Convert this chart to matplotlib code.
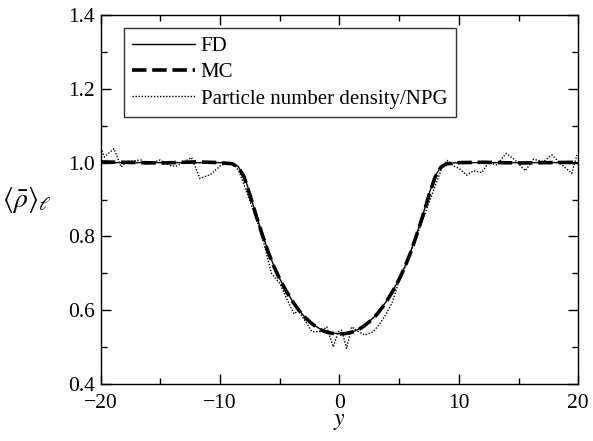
import matplotlib
matplotlib.use("Agg")
import matplotlib.pyplot as plt
from matplotlib.ticker import MultipleLocator

plt.rcParams["font.family"] = ["Liberation Serif", "DejaVu Serif"]
plt.rcParams["mathtext.fontset"] = "stix"

# FD profile
fd_y = [-20, -10, -9, -8.5, -8, -7.5, -7, -6.5, -6, -5.5, -5, -4.5, -4, -3.5,
        -3, -2.5, -2, -1.5, -1, -0.5, 0, 0.5, 1, 1.5, 2, 2.5, 3, 3.5, 4, 4.5,
        5, 5.5, 6, 6.5, 7, 7.5, 8, 8.5, 9, 10, 20]
fd_rho = [1.0, 1.0, 0.998, 0.99, 0.965, 0.915, 0.86, 0.81, 0.762, 0.72, 0.685,
          0.655, 0.628, 0.605, 0.585, 0.57, 0.557, 0.547, 0.541, 0.538, 0.537,
          0.538, 0.541, 0.547, 0.557, 0.57, 0.585, 0.605, 0.628, 0.655, 0.685,
          0.72, 0.762, 0.81, 0.86, 0.915, 0.962, 0.99, 0.998, 1.0, 1.0]

# MC profile
mc_y = [-20, -15, -12, -10, -9, -8.5, -8, -7.5, -7, -6.5, -6, -5.5, -5, -4.5,
        -4, -3.5, -3, -2.5, -2, -1.5, -1, -0.5, 0, 0.5, 1, 1.5, 2, 2.5, 3,
        3.5, 4, 4.5, 5, 5.5, 6, 6.5, 7, 7.5, 8, 8.5, 9, 10, 12, 15, 20]
mc_rho = [1.002, 0.999, 1.002, 1.0, 0.997, 0.988, 0.962, 0.912, 0.858, 0.808,
          0.76, 0.719, 0.684, 0.654, 0.627, 0.604, 0.584, 0.569, 0.556, 0.546,
          0.54, 0.537, 0.536, 0.537, 0.54, 0.546, 0.556, 0.569, 0.584, 0.604,
          0.627, 0.654, 0.684, 0.719, 0.76, 0.808, 0.858, 0.912, 0.96, 0.988,
          0.997, 1.0, 1.001, 0.999, 1.001]

# Particle number density / NPG
npg_y = [-20.0, -19.7, -18.9, -18.3, -17.85, -16.6, -16.2, -15.05, -14.1,
         -13.65, -12.95, -12.4, -11.7, -10.8, -10.2, -9.9, -8.9, -8.4, -7.6,
         -7.0, -6.4, -5.7, -5.0, -4.3, -3.8, -3.45, -2.3, -1.6, -1.07, -0.52,
         -0.1, 0.18, 0.6, 1.02, 1.58, 2.14, 2.84, 3.4, 3.96, 4.4, 4.93, 5.6,
         6.4, 7.2, 8.0, 8.57, 9.0, 9.55, 10.0, 10.67, 11.22, 11.93, 12.48,
         13.18, 13.96, 14.72, 15.56, 16.25, 17.09, 17.8, 18.49, 19.47, 19.9]
npg_rho = [1.04, 1.015, 1.038, 0.988, 1.003, 1.007, 0.994, 1.007, 0.991,
           0.991, 1.003, 1.014, 0.957, 0.968, 0.985, 0.994, 1.0, 0.975, 0.905,
           0.85, 0.79, 0.70, 0.673, 0.623, 0.59, 0.60, 0.542, 0.542, 0.555,
           0.501, 0.542, 0.546, 0.497, 0.555, 0.542, 0.533, 0.542, 0.564,
           0.593, 0.62, 0.673, 0.725, 0.795, 0.865, 0.935, 0.985, 1.006, 0.991,
           0.985, 0.966, 0.978, 0.973, 1.0, 0.994, 1.025, 1.007, 0.978, 1.009,
           1.003, 1.021, 0.998, 0.971, 1.021]

fig = plt.figure(figsize=(5.93, 4.41), dpi=100)
ax = fig.add_axes([0.170, 0.129, 0.805, 0.837])

ax.plot(fd_y, fd_rho, color="black", lw=1.0, label="FD")
ax.plot(mc_y, mc_rho, color="black", lw=2.6, ls=(0, (4, 1.6)), label="MC")
ax.plot(npg_y, npg_rho, color="black", lw=1.0, ls=(0, (1, 1.2)),
        label="Particle number density/NPG")

ax.set_xlim(-20, 20)
ax.set_ylim(0.4, 1.4)
ax.xaxis.set_major_locator(MultipleLocator(10))
ax.xaxis.set_minor_locator(MultipleLocator(5))
ax.yaxis.set_major_locator(MultipleLocator(0.2))
ax.yaxis.set_minor_locator(MultipleLocator(0.1))
ax.xaxis.set_major_formatter(plt.FuncFormatter(
    lambda v, p: f"{int(v)}".replace("-", "\u2212")))
ax.yaxis.set_major_formatter(plt.FuncFormatter(lambda v, p: f"{v:.1f}"))
ax.tick_params(which="both", direction="in", top=True, right=True,
               labelsize=15.5, width=1.0)
ax.tick_params(which="major", length=7)
ax.tick_params(which="minor", length=4)
ax.tick_params(axis="x", pad=7)
ax.tick_params(axis="y", pad=4)
for s in ax.spines.values():
    s.set_linewidth(1.0)

ax.set_xlabel(r"$y$", fontsize=17, labelpad=-1)
ax.set_ylabel(r"$\langle\bar{\rho}\rangle_\ell$", fontsize=20, rotation=0,
              labelpad=30, va="center")

leg = ax.legend(loc="upper left", bbox_to_anchor=(0.048, 0.965), fontsize=15,
                frameon=True, fancybox=False, edgecolor="black",
                handlelength=3.0, handletextpad=0.3, borderpad=0.4,
                labelspacing=0.33, borderaxespad=0)
leg.get_frame().set_linewidth(1.0)

fig.savefig("out.png", dpi=100)
